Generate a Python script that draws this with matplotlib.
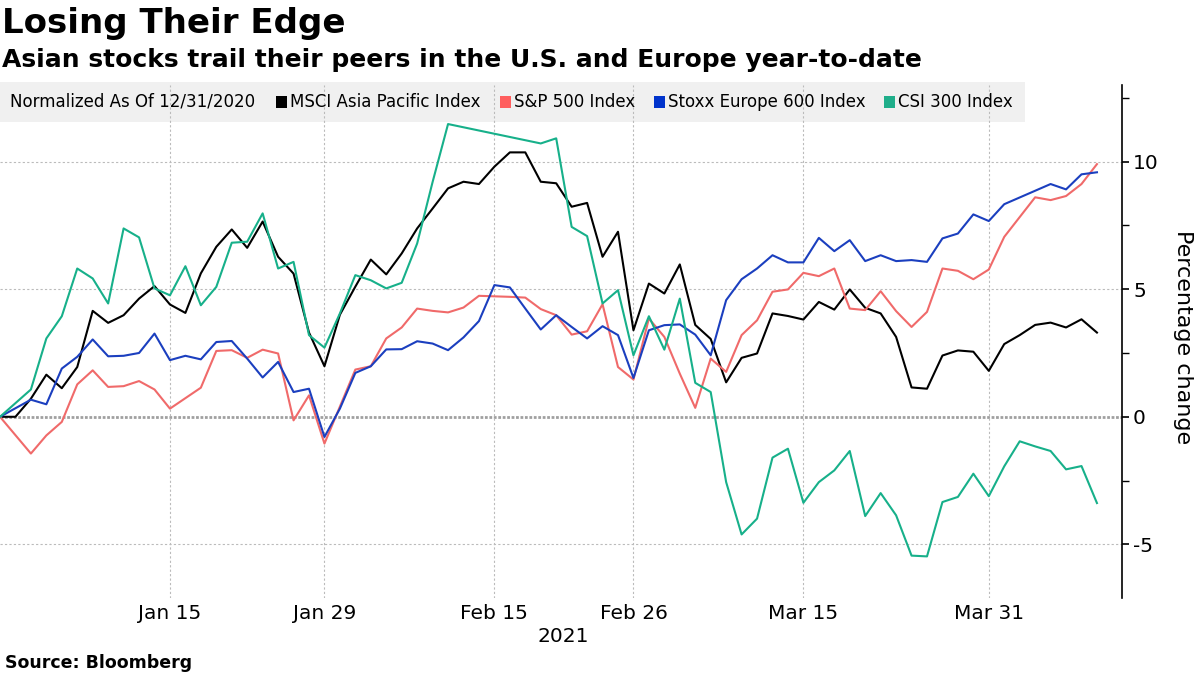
import numpy as np
import pandas as pd
import matplotlib
matplotlib.use('Agg')
import matplotlib.pyplot as plt
from matplotlib.patches import Rectangle

plt.rcParams['font.family'] = ['DejaVu Sans']
plt.rcParams['axes.unicode_minus'] = False

# trading days (weekdays) from the base date
dates = pd.bdate_range('2020-12-31', '2021-04-09')
nan = np.nan

msci = [0, 0, 0.71, 1.65, 1.12, 1.95, 4.15, 3.68, 3.98, 4.63,
        5.12, 4.40, 4.07, 5.62, 6.66, 7.34, 6.62, 7.65, 6.27, 5.61,
        3.3, 1.98, 4.0, 5.1, 6.16, 5.58, 6.40, 7.38, 8.16, 8.95,
        9.21, 9.12, 9.80, 10.36, 10.36, 9.21, 9.15, 8.23, 8.38, 6.27,
        7.25, 3.39, 5.22, 4.83, 5.97, 3.6, 3.05, 1.35, 2.31, 2.48,
        4.05, 3.95, 3.81, 4.50, 4.20, 4.99, 4.27, 4.05, 3.13, 1.15,
        1.10, 2.4, 2.6, 2.55, 1.8, 2.85, 3.2, 3.6, 3.69, 3.5,
        3.82, 3.3]

spx = [0, nan, -1.44, -0.73, -0.20, 1.27, 1.82, 1.17, 1.20, 1.40,
       1.07, 0.32, nan, 1.14, 2.58, 2.61, 2.31, 2.63, 2.48, -0.14,
       0.84, -1.05, 0.4, 1.85, 1.98, 3.07, 3.50, 4.24, 4.15, 4.09,
       4.28, 4.74, nan, 4.70, 4.67, 4.22, 3.98, 3.22, 3.35, 4.41,
       1.95, 1.46, 3.85, 3.13, 1.69, 0.35, 2.28, 1.76, 3.20, 3.78,
       4.90, 4.99, 5.64, 5.51, 5.81, 4.24, 4.18, 4.92, 4.14, 3.52,
       4.11, 5.81, 5.72, 5.39, 5.77, 7.05, nan, 8.60, 8.49, 8.65,
       9.12, 9.90]

stoxx = [0, nan, 0.67, 0.49, 1.89, 2.35, 3.03, 2.37, 2.39, 2.50,
         3.26, 2.22, 2.39, 2.25, 2.93, 2.97, 2.28, 1.54, 2.15, 0.97,
         1.10, -0.79, 0.32, 1.72, 1.98, 2.64, 2.65, 2.96, 2.87, 2.61,
         3.11, 3.75, 5.16, 5.07, 4.24, 3.42, 3.98, 3.52, 3.07, 3.55,
         3.20, 1.52, 3.39, 3.59, 3.62, 3.22, 2.41, 4.57, 5.39, 5.81,
         6.33, 6.05, 6.05, 7.01, 6.49, 6.92, 6.10, 6.33, 6.10, 6.14,
         6.07, 6.99, 7.18, 7.93, 7.67, 8.33, nan, nan, 9.12, 8.91,
         9.50, 9.58]

csi = [0, nan, 1.07, 3.07, 3.94, 5.81, 5.42, 4.44, 7.38, 7.03,
       5.03, 4.76, 5.90, 4.37, 5.09, 6.82, 6.86, 7.97, 5.81, 6.07,
       3.20, 2.71, 4.05, 5.55, 5.35, 5.03, 5.25, 6.79, 9.2, 11.47,
       nan, nan, nan, nan, nan, 10.71, 10.91, 7.44, 7.08, 4.44,
       4.96, 2.41, 3.94, 2.63, 4.63, 1.33, 0.97, -2.56, -4.61, -3.99,
       -1.60, -1.25, -3.37, -2.56, -2.10, -1.34, -3.89, -2.99, -3.86, -5.44,
       -5.47, -3.34, -3.14, -2.23, -3.11, -1.94, -0.96, -1.16, -1.34, -2.06,
       -1.93, -3.38]

series_names = ['MSCI Asia Pacific Index', 'S&P 500 Index', 'Stoxx Europe 600 Index', 'CSI 300 Index']
line_colors = ['#000000', '#f06a6a', '#1b3fbf', '#17b08a']
legend_colors = ['#000000', '#ff5e5e', '#0033cc', '#1fae8a']

tick_dates = ['2021-01-15', '2021-01-29', '2021-02-15', '2021-02-26', '2021-03-15', '2021-03-31']
tick_labels = ['Jan 15', 'Jan 29', 'Feb 15', 'Feb 26', 'Mar 15', 'Mar 31']
y_ticks = [-5, 0, 5, 10]

fig = plt.figure(figsize=(12, 6.75), dpi=100)
ax = fig.add_axes([0, 1 - 598 / 675, 1122 / 1200, (598 - 85) / 675])

x = np.arange(len(dates))
for vals, c in zip([msci, spx, stoxx, csi], line_colors):
    v = np.array(vals, dtype=float)
    m = ~np.isnan(v)
    ax.plot(x[m], v[m], color=c, lw=1.5, zorder=3)

ax.set_xlim(0, 1122 / 15.45)
ax.set_ylim(-7.1, 13.0)

tick_pos = [dates.get_loc(pd.Timestamp(d)) for d in tick_dates]
ax.set_xticks(tick_pos)
ax.set_xticklabels(tick_labels, fontsize=14.5)
ax.tick_params(axis='x', length=0, pad=4)
ax.xaxis.grid(True, color='#bbbbbb', lw=0.8, ls=(0, (2, 2)))

ax.yaxis.tick_right()
ax.set_yticks(y_ticks)
ax.set_yticks([-2.5, 2.5, 7.5, 12.5], minor=True)
ax.tick_params(axis='y', which='major', labelsize=14.5, length=5, width=1.2, direction='out', pad=3)
ax.tick_params(axis='y', which='minor', length=5, width=1.0, direction='out')
for yv in [-5, 5, 10]:
    ax.axhline(yv, color='#bbbbbb', lw=0.8, ls=(0, (2, 2)), zorder=1)
ax.axhline(0, color='#a0a0a0', lw=2.0, ls=(0, (1, 0.6)), zorder=1)

for s in ['top', 'left', 'bottom']:
    ax.spines[s].set_visible(False)
ax.spines['right'].set_linewidth(1.2)

# legend bar
ax.add_patch(Rectangle((0, 1 - 122 / 675), 1025 / 1200, 40 / 675, transform=fig.transFigure,
                       facecolor='#f0f0f0', edgecolor='none', zorder=0, clip_on=False))
ly = 1 - 102 / 675
fig.text(10 / 1200, ly, 'Normalized As Of 12/31/2020', fontsize=12, va='center', ha='left')
sq_x = [276, 500, 654, 884]
for sx, name, c in zip(sq_x, series_names, legend_colors):
    fig.patches.append(Rectangle((sx / 1200, 1 - 108 / 675), 11 / 1200, 12 / 675,
                                 transform=fig.transFigure, facecolor=c, edgecolor='none', figure=fig))
    fig.text((sx + 14) / 1200, ly, name, fontsize=12, va='center', ha='left')

fig.text(2 / 1200, 1 - 23 / 675, 'Losing Their Edge', fontsize=24.5, fontweight='bold', va='center', ha='left')
fig.text(2 / 1200, 1 - 60 / 675, 'Asian stocks trail their peers in the U.S. and Europe year-to-date',
         fontsize=18, fontweight='bold', va='center', ha='left')
fig.text(563 / 1200, 1 - 637 / 675, '2021', fontsize=14.5, va='center', ha='center')
fig.text(1183 / 1200, 1 - 337 / 675, 'Percentage change', fontsize=16, rotation=270, va='center', ha='center')
fig.text(5 / 1200, 1 - 663 / 675, 'Source: Bloomberg', fontsize=12.5, fontweight='bold', va='center', ha='left')

fig.savefig('out.png', dpi=100)
